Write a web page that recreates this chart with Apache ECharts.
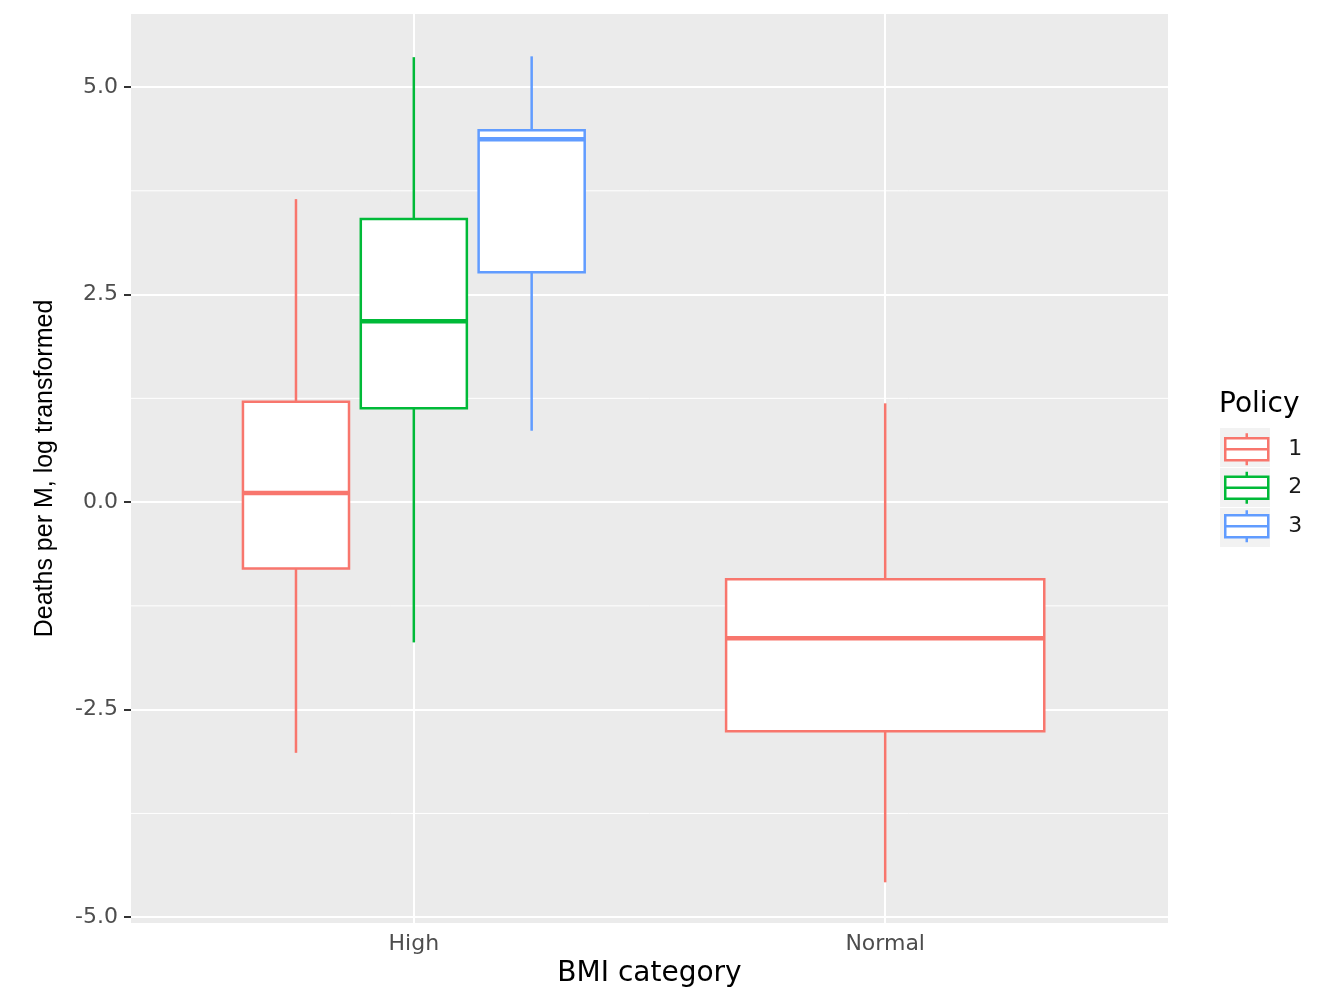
<!DOCTYPE html>
<html>
<head>
<meta charset="utf-8">
<script src="https://cdn.jsdelivr.net/npm/echarts@6/dist/echarts.min.js"></script>
<style>
  html, body { margin: 0; padding: 0; background: #fff; }
  #chart { width: 1332px; height: 987px; }
</style>
</head>
<body>
<div id="chart"></div>
<script>
// data
const categories = ['High', 'Normal']
const policies = ['1', '2', '3']
const colors = ['#F8766D', '#00BA38', '#619CFF']
const yTicks = [-5, -2.5, 0, 2.5, 5]
const yMinorTicks = [-3.75, -1.25, 1.25, 3.75]

// [low, q1, median, q3, high] per category, null when the policy has no data there
const policy1 = [[-3.02, -0.80, 0.11, 1.21, 3.65], [-4.58, -2.76, -1.64, -0.93, 1.19]]
const policy2 = [[-1.69, 1.13, 2.18, 3.41, 5.36], null]
const policy3 = [[0.86, 2.77, 4.37, 4.48, 5.37], null]
const stats = [policy1, policy2, policy3]

const chart = echarts.init(document.getElementById('chart'))

// ggplot style dodge: total width 0.675, split among the groups present
function buildData(pi) {
  const out = []
  categories.forEach((cat, ci) => {
    if (!stats[pi][ci]) return
    const present = stats.map((s, i) => (s[ci] ? i : -1)).filter(i => i >= 0)
    const n = present.length
    const w = 0.675 / n
    const k = present.indexOf(pi)
    const x = ci + 1 + (k - (n - 1) / 2) * (0.75 / n)
    out.push([x].concat(stats[pi][ci], [w]))
  })
  return out
}

function renderBox(color) {
  return function (params, api) {
    const x = api.value(0)
    const low = api.coord([x, api.value(1)])
    const q1 = api.coord([x, api.value(2)])
    const med = api.coord([x, api.value(3)])
    const q3 = api.coord([x, api.value(4)])
    const high = api.coord([x, api.value(5)])
    const half = api.size([api.value(6), 0])[0] / 2
    const px = low[0]
    const line = { stroke: color, lineWidth: 2.5 }
    return {
      type: 'group',
      children: [
        { type: 'line', shape: { x1: px, y1: high[1], x2: px, y2: q3[1] }, style: line },
        { type: 'line', shape: { x1: px, y1: q1[1], x2: px, y2: low[1] }, style: line },
        {
          type: 'rect',
          shape: { x: px - half, y: q3[1], width: half * 2, height: q1[1] - q3[1] },
          style: { fill: '#fff', stroke: color, lineWidth: 2.5 }
        },
        {
          type: 'line',
          shape: { x1: px - half, y1: med[1], x2: px + half, y2: med[1] },
          style: { stroke: color, lineWidth: 4.5 }
        }
      ]
    }
  }
}

// thin minor grid lines, drawn under the boxes
function renderMinor(params, api) {
  const a = api.coord([0.4, api.value(0)])
  const b = api.coord([2.6, api.value(0)])
  return {
    type: 'line',
    shape: { x1: a[0], y1: a[1], x2: b[0], y2: b[1] },
    style: { stroke: '#fff', lineWidth: 1 }
  }
}

const boxIcon = 'path://M0 5L43 5L43 27L0 27ZM0 16L43 16M21.5 0L21.5 5M21.5 27L21.5 32'

const series = [{
  type: 'custom',
  z: 1,
  silent: true,
  encode: { y: 0 },
  renderItem: renderMinor,
  data: yMinorTicks.map(v => [v])
}].concat(policies.map((p, i) => ({
  name: p,
  type: 'custom',
  z: 3,
  itemStyle: { color: colors[i] },
  encode: { x: 0, y: [1, 5] },
  renderItem: renderBox(colors[i]),
  data: buildData(i)
})))

const sans = 'DejaVu Sans, Liberation Sans, sans-serif'

const option = {
  animation: false,
  textStyle: { fontFamily: sans },
  grid: {
    left: 131, right: 164, top: 14, bottom: 64,
    outerBoundsMode: 'none',
    show: true, backgroundColor: '#EBEBEB', borderWidth: 0
  },
  title: {
    text: 'Policy',
    left: 1219, top: 391,
    padding: 0,
    textStyle: { fontSize: 28, fontWeight: 'normal', color: '#000', fontFamily: sans }
  },
  legend: {
    orient: 'vertical',
    left: 1224, top: 432,
    padding: 0,
    itemWidth: 43, itemHeight: 32, itemGap: 4,
    icon: boxIcon,
    textStyle: { fontSize: 22, color: '#1a1a1a', padding: [0, 0, 0, 15], fontFamily: sans },
    data: policies.map((p, i) => ({
      name: p,
      itemStyle: { color: '#fff', borderColor: colors[i], borderWidth: 2.5 }
    }))
  },
  graphic: [0, 1, 2].map(i => ({
    type: 'rect',
    z: 0,
    shape: { x: 1220, y: 428 + i * 40, width: 50, height: 39 },
    style: { fill: '#F2F2F2' }
  })),
  xAxis: {
    type: 'value',
    min: 0.4, max: 2.6,
    name: 'BMI category',
    nameLocation: 'middle',
    nameGap: 34,
    nameTextStyle: { fontSize: 28, color: '#000', fontFamily: sans },
    axisLine: { show: false },
    axisTick: { show: true, length: 7, customValues: [1, 2], lineStyle: { color: '#333', width: 2 } },
    axisLabel: {
      customValues: [1, 2],
      fontSize: 22, color: '#4D4D4D', margin: 10,
      formatter: v => categories[Math.round(v) - 1]
    },
    splitLine: { show: true, lineStyle: { color: '#fff', width: 2 } }
  },
  yAxis: {
    type: 'value',
    min: -5.07, max: 5.88,
    name: 'Deaths per M, log transformed',
    nameLocation: 'middle',
    nameGap: 73,
    nameTextStyle: { fontSize: 25, color: '#000', fontFamily: 'Liberation Sans, Arial, sans-serif' },
    axisLine: { show: false },
    axisTick: { show: true, length: 7, customValues: yTicks, lineStyle: { color: '#333', width: 2 } },
    axisLabel: {
      customValues: yTicks,
      fontSize: 22, color: '#4D4D4D', margin: 13,
      formatter: v => v.toFixed(1)
    },
    splitLine: { show: true, lineStyle: { color: '#fff', width: 2 } }
  },
  series: series
}

chart.setOption(option)
</script>
</body>
</html>
